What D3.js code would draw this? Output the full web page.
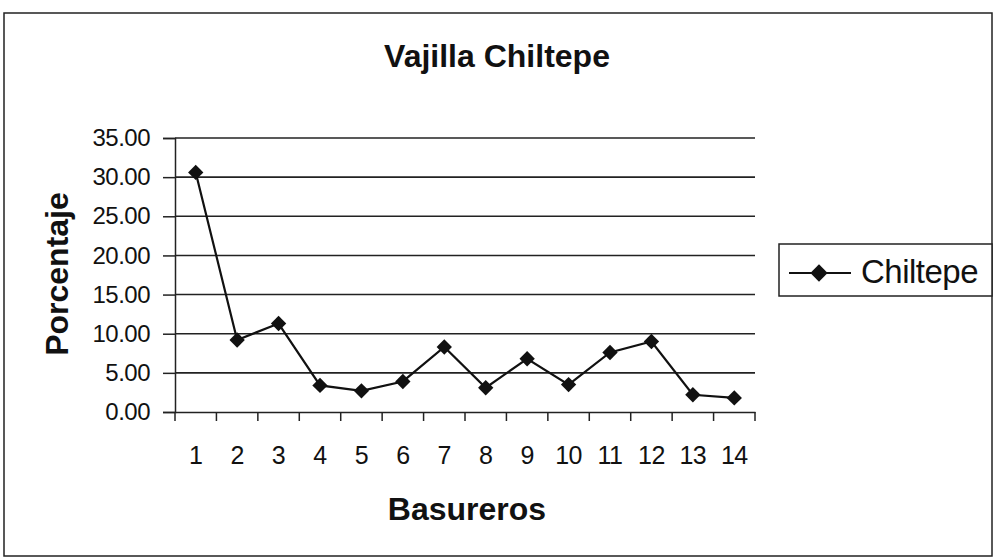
<!DOCTYPE html>
<html>
<head>
  <meta charset="utf-8">
  <title>Vajilla Chiltepe</title>
  <style>
    body { margin: 0; background: #fff; }
    text { font-family: "Liberation Sans", Arial, sans-serif; fill: #111; }
  </style>
</head>
<body>
  <svg></svg>
  <script src="https://cdnjs.cloudflare.com/ajax/libs/d3/7.8.5/d3.min.js"></script>
  <script>
    var width = 996, height = 560;

    // data
    var basureros = ["1", "2", "3", "4", "5", "6", "7", "8", "9", "10", "11", "12", "13", "14"];
    var chiltepe = [30.6, 9.2, 11.3, 3.4, 2.7, 3.9, 8.3, 3.1, 6.8, 3.5, 7.6, 9.0, 2.2, 1.8];
    var yTicks = [0, 5, 10, 15, 20, 25, 30, 35];

    var plot = { left: 175, right: 755, top: 138, bottom: 412 };

    var svg = d3.select("svg").attr("width", width).attr("height", height);

    // outer frame
    svg.append("rect")
      .attr("x", 4).attr("y", 13).attr("width", 988).attr("height", 543)
      .attr("fill", "none").attr("stroke", "#222").attr("stroke-width", 1.5);

    var x = d3.scaleBand().domain(basureros).range([plot.left, plot.right]);
    var y = d3.scaleLinear().domain([0, 35]).range([plot.bottom, plot.top]);

    // gridlines
    svg.append("g").selectAll("line").data(yTicks.slice(1))
      .enter().append("line")
      .attr("x1", plot.left).attr("x2", plot.right)
      .attr("y1", d => y(d)).attr("y2", d => y(d))
      .attr("stroke", "#222").attr("stroke-width", 1.6);

    // y axis
    var yAxis = svg.append("g")
      .attr("transform", "translate(" + plot.left + ",0)")
      .call(d3.axisLeft(y).tickValues(yTicks).tickFormat(d3.format(".2f")).tickSize(12).tickPadding(13));
    yAxis.select(".domain").attr("stroke", "#222").attr("stroke-width", 1.5);
    yAxis.selectAll(".tick line").attr("stroke", "#222").attr("stroke-width", 1.5);
    yAxis.selectAll("text").attr("font-size", 24).attr("fill", "#111").attr("letter-spacing", -0.5)
      .style("font-family", "Liberation Sans, Arial, sans-serif");

    // x axis, ticks between categories
    var xAxis = svg.append("g")
      .attr("transform", "translate(0," + plot.bottom + ")")
      .call(d3.axisBottom(x).tickSize(0).tickPadding(34));
    xAxis.select(".domain").attr("stroke", "#222").attr("stroke-width", 1.6);
    xAxis.selectAll("text").attr("font-size", 25).attr("fill", "#111").attr("letter-spacing", -0.5)
      .style("font-family", "Liberation Sans, Arial, sans-serif");
    var bounds = basureros.map(d => x(d)).concat([x(basureros[basureros.length - 1]) + x.bandwidth()]);
    xAxis.selectAll("line.sep").data(bounds)
      .enter().append("line").attr("class", "sep")
      .attr("x1", d => d).attr("x2", d => d)
      .attr("y1", 0).attr("y2", 9)
      .attr("stroke", "#222").attr("stroke-width", 1.5);

    // series line
    var cx = d => x(d) + x.bandwidth() / 2;
    var line = d3.line().x((d, i) => cx(basureros[i])).y(d => y(d));
    svg.append("path").datum(chiltepe)
      .attr("d", line).attr("fill", "none")
      .attr("stroke", "#111").attr("stroke-width", 2.2);

    var diamond = d3.symbol().type(d3.symbolDiamond2).size(150);
    svg.append("g").selectAll("path").data(chiltepe)
      .enter().append("path")
      .attr("d", diamond)
      .attr("transform", (d, i) => "translate(" + cx(basureros[i]) + "," + y(d) + ")")
      .attr("fill", "#111");

    // titles
    svg.append("text").attr("x", 497).attr("y", 67)
      .attr("text-anchor", "middle").attr("font-size", 32).attr("font-weight", "bold")
      .text("Vajilla Chiltepe");
    svg.append("text").attr("x", 467).attr("y", 520)
      .attr("text-anchor", "middle").attr("font-size", 32).attr("font-weight", "bold")
      .text("Basureros");
    svg.append("text")
      .attr("transform", "translate(68,274) rotate(-90)")
      .attr("text-anchor", "middle").attr("font-size", 32).attr("font-weight", "bold")
      .text("Porcentaje");

    // legend
    var lg = svg.append("g").attr("transform", "translate(779,244)");
    lg.append("rect").attr("width", 213).attr("height", 52)
      .attr("fill", "#fff").attr("stroke", "#222").attr("stroke-width", 1.5);
    lg.append("line").attr("x1", 10).attr("x2", 72).attr("y1", 29).attr("y2", 29)
      .attr("stroke", "#111").attr("stroke-width", 2);
    lg.append("path").attr("d", d3.symbol().type(d3.symbolDiamond2).size(190))
      .attr("transform", "translate(40,29)").attr("fill", "#111");
    lg.append("text").attr("x", 82).attr("y", 39).attr("font-size", 33).attr("letter-spacing", -0.5)
      .text("Chiltepe");
  </script>
</body>
</html>
